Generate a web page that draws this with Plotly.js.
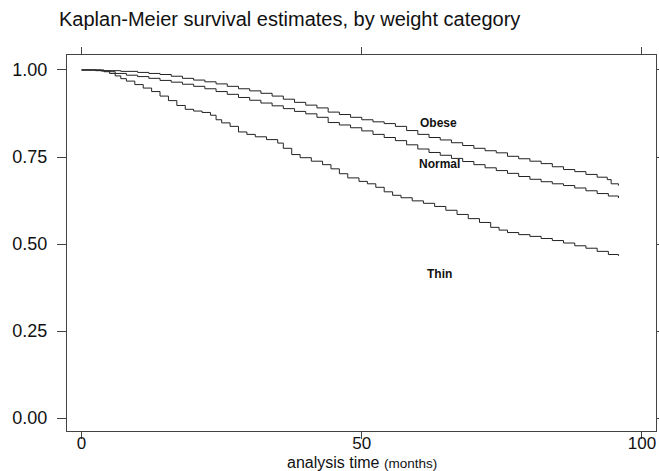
<!DOCTYPE html>
<html>
<head>
<meta charset="utf-8">
<script src="https://cdn.plot.ly/plotly-3.0.1.min.js"></script>
<style>html,body{margin:0;padding:0;background:#fff;}#chart{width:659px;height:471px;}</style>
</head>
<body>
<div id="chart"></div>
<script>
// Kaplan-Meier step data (time in months, survival)
const thinTime = [0, 3.5, 5, 6, 7, 8, 9.5, 11, 12.5, 14, 15.5, 17, 18.5, 20, 21.5, 23, 24, 25, 26.5, 28, 29.5, 31, 33, 35, 36, 37.5, 39, 41, 43, 44.5, 46, 47.5, 49.5, 51, 52.5, 54, 55.5, 57, 59, 61, 63, 65, 67, 69, 71, 73, 74.5, 76, 78, 80, 82, 84, 86, 88, 90, 92, 94, 95.8];
const thinSurv = [1.0, 0.997, 0.99, 0.983, 0.975, 0.968, 0.958, 0.948, 0.938, 0.925, 0.912, 0.898, 0.887, 0.882, 0.878, 0.87, 0.857, 0.848, 0.838, 0.822, 0.815, 0.808, 0.8, 0.79, 0.775, 0.757, 0.748, 0.738, 0.728, 0.716, 0.702, 0.69, 0.68, 0.673, 0.663, 0.65, 0.64, 0.633, 0.624, 0.617, 0.608, 0.597, 0.585, 0.573, 0.562, 0.548, 0.54, 0.533, 0.527, 0.522, 0.516, 0.51, 0.503, 0.495, 0.488, 0.479, 0.47, 0.466];

const obeseTime = [0, 4, 7, 10, 12, 14, 16, 18, 20, 22, 24, 26, 28, 30, 32, 34, 36, 38, 40, 42, 44, 46, 48, 50, 52, 54, 56, 58, 60, 62, 64, 66, 68, 70, 72, 74, 76, 78, 80, 82, 84, 86, 88, 90, 92, 93.8, 94.5, 95.8];
const obeseSurv = [1.0, 0.998, 0.996, 0.993, 0.99, 0.987, 0.982, 0.976, 0.971, 0.966, 0.96, 0.953, 0.946, 0.94, 0.933, 0.925, 0.916, 0.907, 0.899, 0.891, 0.879, 0.872, 0.864, 0.857, 0.851, 0.846, 0.838, 0.826, 0.815, 0.806, 0.799, 0.791, 0.783, 0.775, 0.768, 0.762, 0.752, 0.745, 0.738, 0.731, 0.722, 0.714, 0.708, 0.7, 0.692, 0.685, 0.673, 0.668];

const normalTime = [0, 2.5, 4, 6, 8, 10, 12, 14, 16, 18, 20, 22, 24, 26, 28, 30, 32, 34, 36, 38, 40, 42, 44, 46, 48, 50, 52, 54, 56, 58, 60, 62, 64, 66, 68, 70, 72, 74, 76, 78, 80, 82, 84, 86, 88, 90, 92, 94, 95.8];
const normalSurv = [1.0, 0.998, 0.995, 0.99, 0.985, 0.981, 0.976, 0.97, 0.965, 0.959, 0.953, 0.946, 0.938, 0.93, 0.921, 0.913, 0.905, 0.897, 0.889, 0.881, 0.874, 0.864, 0.849, 0.842, 0.834, 0.825, 0.815, 0.806, 0.797, 0.785, 0.773, 0.763, 0.755, 0.746, 0.737, 0.728, 0.719, 0.711, 0.703, 0.694, 0.686, 0.679, 0.673, 0.668, 0.661, 0.653, 0.645, 0.638, 0.632];

const groupLabels = ["Obese", "Normal", "Thin"];
const labelTime = [63.7, 63.9, 63.9];
const labelSurv = [0.849, 0.731, 0.414];

const xTicks = [0, 50, 100];
const yTicks = [0, 0.25, 0.5, 0.75, 1.0];

const FONT = "Liberation Sans, Arial, Helvetica, sans-serif";
const lineStyle = {color: "#222", width: 1, shape: "hv"};

const traces = [
  {x: obeseTime, y: obeseSurv, name: "Obese", mode: "lines", line: lineStyle},
  {x: normalTime, y: normalSurv, name: "Normal", mode: "lines", line: lineStyle},
  {x: thinTime, y: thinSurv, name: "Thin", mode: "lines", line: lineStyle}
];

const annotations = groupLabels.map((t, i) => ({
  x: labelTime[i], y: labelSurv[i], xref: "x", yref: "y",
  text: "<b>" + t + "</b>", showarrow: false,
  font: {family: FONT, size: 12, color: "#111"}
}));

// x-axis title placed as a paper annotation just under the tick labels
annotations.push({
  x: 0.5, xref: "paper", xanchor: "center",
  y: -31 / 376, yref: "paper", yanchor: "middle",
  text: "analysis time <span style=\"font-size:13.5px\">(months)</span>",
  showarrow: false,
  font: {family: FONT, size: 16, color: "#111"}
});

const axisCommon = {
  showgrid: false, zeroline: false, showline: true, linecolor: "#444", linewidth: 1,
  mirror: "ticks", ticks: "outside", tickcolor: "#444", tickwidth: 1,
  tickfont: {family: FONT, size: 18, color: "#111"}
};

const layout = {
  width: 659, height: 471,
  margin: {l: 67, r: 3, t: 55, b: 40},
  paper_bgcolor: "#fff", plot_bgcolor: "#fff",
  showlegend: false,
  title: {
    text: "Kaplan-Meier survival estimates, by weight category",
    x: 59 / 659, xanchor: "left", xref: "container",
    y: 1 - 19 / 471, yanchor: "middle", yref: "container",
    font: {family: FONT, size: 20, color: "#111"}
  },
  xaxis: Object.assign({}, axisCommon, {
    range: [-2.6, 102.5], tickvals: xTicks, ticktext: xTicks.map(String),
    ticklen: 7, ticklabelstandoff: -10,
    tickfont: {family: FONT, size: 17, color: "#111"}
  }),
  yaxis: Object.assign({}, axisCommon, {
    range: [-0.037, 1.043], tickvals: yTicks, ticktext: yTicks.map(v => v.toFixed(2)),
    ticklen: 9, ticklabelstandoff: 6
  }),
  annotations: annotations
};

Plotly.newPlot("chart", traces, layout, {displayModeBar: false, staticPlot: true});
</script>
</body>
</html>
